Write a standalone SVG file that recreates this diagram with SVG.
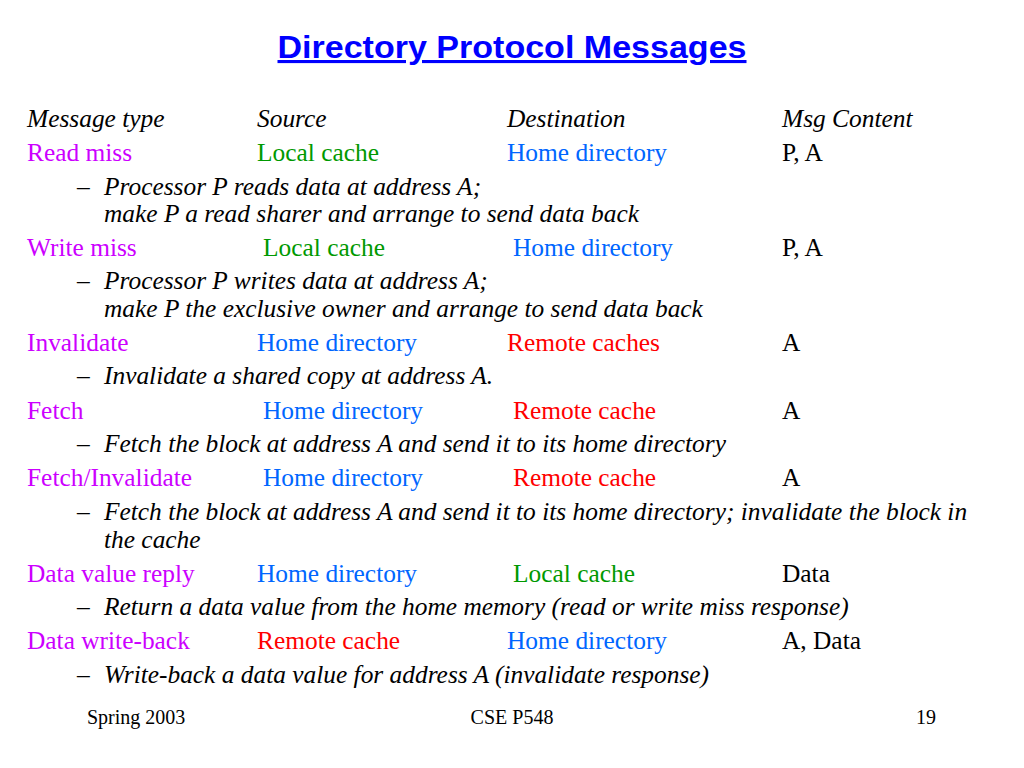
<svg xmlns="http://www.w3.org/2000/svg" width="1024" height="768" viewBox="0 0 1024 768">
<style>
text{font-family:"Liberation Serif","Times New Roman",serif;font-size:25.4px;fill:#000}
.title{font-family:"Liberation Sans",Arial,sans-serif;font-weight:bold;font-size:31px;fill:#0000FF;text-decoration:underline}
.h{font-style:italic}
.m{fill:#CC00FF}
.g{fill:#009900}
.b{fill:#0066FF}
.r{fill:#FF0000}
.s{font-style:italic}
.f{font-size:20px}
</style>
<rect width="1024" height="768" fill="#fff"/>
<text class="title" x="512" y="58" text-anchor="middle" textLength="469" lengthAdjust="spacingAndGlyphs">Directory Protocol Messages</text>
<g id="header">
<text class="h" x="27" y="127">Message type</text>
<text class="h" x="257" y="127">Source</text>
<text class="h" x="507" y="127">Destination</text>
<text class="h" x="782" y="127">Msg Content</text>
</g>
<g id="read-miss">
<text class="m" x="27" y="161">Read miss</text>
<text class="g" x="257" y="161">Local cache</text>
<text class="b" x="507" y="161">Home directory</text>
<text x="782" y="161">P, A</text>
<text class="s" x="77" y="195">–</text>
<text class="s" x="104" y="195">Processor P reads data at address A;</text>
<text class="s" x="104" y="222">make P a read sharer and arrange to send data back</text>
</g>
<g id="write-miss">
<text class="m" x="27" y="256">Write miss</text>
<text class="g" x="263" y="256">Local cache</text>
<text class="b" x="513" y="256">Home directory</text>
<text x="782" y="256">P, A</text>
<text class="s" x="77" y="289">–</text>
<text class="s" x="104" y="289">Processor P writes data at address A;</text>
<text class="s" x="104" y="317">make P the exclusive owner and arrange to send data back</text>
</g>
<g id="invalidate">
<text class="m" x="27" y="351">Invalidate</text>
<text class="b" x="257" y="351">Home directory</text>
<text class="r" x="507" y="351">Remote caches</text>
<text x="782" y="351">A</text>
<text class="s" x="77" y="384">–</text>
<text class="s" x="104" y="384">Invalidate a shared copy at address A.</text>
</g>
<g id="fetch">
<text class="m" x="27" y="419">Fetch</text>
<text class="b" x="263" y="419">Home directory</text>
<text class="r" x="513" y="419">Remote cache</text>
<text x="782" y="419">A</text>
<text class="s" x="77" y="452">–</text>
<text class="s" x="104" y="452">Fetch the block at address A and send it to its home directory</text>
</g>
<g id="fetch-invalidate">
<text class="m" x="27" y="486">Fetch/Invalidate</text>
<text class="b" x="263" y="486">Home directory</text>
<text class="r" x="513" y="486">Remote cache</text>
<text x="782" y="486">A</text>
<text class="s" x="77" y="520">–</text>
<text class="s" x="104" y="520">Fetch the block at address A and send it to its home directory; invalidate the block in</text>
<text class="s" x="104" y="548">the cache</text>
</g>
<g id="data-value-reply">
<text class="m" x="27" y="582">Data value reply</text>
<text class="b" x="257" y="582">Home directory</text>
<text class="g" x="513" y="582">Local cache</text>
<text x="782" y="582">Data</text>
<text class="s" x="77" y="615">–</text>
<text class="s" x="104" y="615">Return a data value from the home memory (read or write miss response)</text>
</g>
<g id="data-write-back">
<text class="m" x="27" y="649">Data write-back</text>
<text class="r" x="257" y="649">Remote cache</text>
<text class="b" x="507" y="649">Home directory</text>
<text x="782" y="649">A, Data</text>
<text class="s" x="77" y="683">–</text>
<text class="s" x="104" y="683">Write-back a data value for address A (invalidate response)</text>
</g>
<g id="footer">
<text class="f" x="87" y="724">Spring 2003</text>
<text class="f" x="512" y="724" text-anchor="middle">CSE P548</text>
<text class="f" x="936" y="724" text-anchor="end">19</text>
</g>
</svg>
